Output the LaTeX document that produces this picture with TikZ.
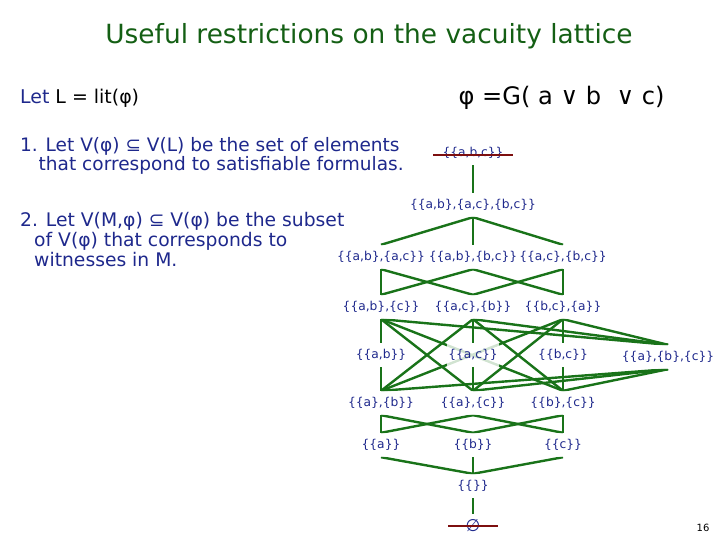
\documentclass[tikz,border=0pt]{standalone}
\usepackage{fontspec}
\setmainfont{DejaVu Sans}
\usepackage{xcolor}
\usepackage{tikz}
\usetikzlibrary{backgrounds}
\definecolor{slidenavy}{RGB}{30,40,140}
\definecolor{titlegreen}{RGB}{20,95,20}
\definecolor{edgegreen}{RGB}{25,115,25}
\definecolor{strikered}{RGB}{125,15,15}

\begin{document}
\begin{tikzpicture}[x=1bp,y=-1bp,
  setnode/.style={text=slidenavy,font=\fontsize{12.3}{12}\selectfont,minimum height=24bp,inner sep=1bp,fill=white,fill opacity=0.8,text opacity=1},
  order/.style={draw=edgegreen,line width=2.4bp},
  strike/.style={draw=strikered,line width=2.6bp},
  body/.style={text=slidenavy,align=left,inner sep=0pt}
]
\useasboundingbox (0,0) rectangle (720,540);

% Title and text
\node[text=titlegreen,font=\fontsize{26.5}{26.5}\selectfont] (title) at (369,36) {Useful restrictions on the vacuity lattice};
\node[body,anchor=west,font=\fontsize{19}{19}\selectfont] (letL) at (20,98) {Let \textcolor{black}{L = lit(φ)}};
\node[font=\fontsize{24.2}{24}\selectfont,anchor=east] (phi) at (668,98) {φ =G( a ∨ b \ ∨ c)};
\node[body,anchor=north west,font=\fontsize{18.6}{16.5}\selectfont] (item1) at (20,137) {1. Let V(φ) ⊆ V(L) be the set of elements\\\hspace*{1em}that correspond to satisfiable formulas.};
\node[body,anchor=north west,font=\fontsize{18.8}{20}\selectfont] (item2) at (20,212) {2. Let V(M,φ) ⊆ V(φ) be the subset\\\hspace*{0.75em}of V(φ) that corresponds to\\\hspace*{0.75em}witnesses in M.};
\node[font=\fontsize{10}{10}\selectfont] (page) at (703,528) {16};

% Lattice
\node[setnode] (abc) at (473,153) {\{\{a,b,c\}\}};
\node[setnode] (top2) at (473,205) {\{\{a,b\},\{a,c\},\{b,c\}\}};
\node[setnode] (abac) at (381,257) {\{\{a,b\},\{a,c\}\}};
\node[setnode] (abbc) at (473,257) {\{\{a,b\},\{b,c\}\}};
\node[setnode] (acbc) at (563,257) {\{\{a,c\},\{b,c\}\}};
\node[setnode] (ab-c) at (381,307) {\{\{a,b\},\{c\}\}};
\node[setnode] (ac-b) at (473,307) {\{\{a,c\},\{b\}\}};
\node[setnode] (bc-a) at (563,307) {\{\{b,c\},\{a\}\}};
\node[setnode] (ab) at (381,355) {\{\{a,b\}\}};
\node[setnode] (ac) at (473,355) {\{\{a,c\}\}};
\node[setnode] (bc) at (563,355) {\{\{b,c\}\}};
\node[setnode] (a-b-c) at (668,357) {\{\{a\},\{b\},\{c\}\}};
\node[setnode] (a-b) at (381,403) {\{\{a\},\{b\}\}};
\node[setnode] (a-c) at (473,403) {\{\{a\},\{c\}\}};
\node[setnode] (b-c) at (563,403) {\{\{b\},\{c\}\}};
\node[setnode] (a) at (381,445) {\{\{a\}\}};
\node[setnode] (b) at (473,445) {\{\{b\}\}};
\node[setnode] (c) at (563,445) {\{\{c\}\}};
\node[setnode] (emp) at (473,486) {\{\{\}\}};
\node[setnode,font=\fontsize{17}{17}\selectfont] (bot) at (473,526) {∅};

\begin{scope}[on background layer]
  % top part
  \draw[order] (abc.south) -- (top2.north);
  \foreach \n in {abac,abbc,acbc}
    \draw[order] (top2.south) -- (\n.north);
  \draw[order] (abac.south) -- (ab-c.north);
  \draw[order] (abac.south) -- (ac-b.north);
  \draw[order] (abbc.south) -- (ab-c.north);
  \draw[order] (abbc.south) -- (bc-a.north);
  \draw[order] (acbc.south) -- (ac-b.north);
  \draw[order] (acbc.south) -- (bc-a.north);
  % middle part
  \draw[order] (ab-c.south) -- (ab.north);
  \draw[order] (ac-b.south) -- (ac.north);
  \draw[order] (bc-a.south) -- (bc.north);
  \draw[order] (ab.south) -- (a-b.north);
  \draw[order] (ac.south) -- (a-c.north);
  \draw[order] (bc.south) -- (b-c.north);
  \foreach \n in {ab-c,ac-b,bc-a}
    \draw[order] (\n.south) -- (a-b-c.north);
  \foreach \n in {a-b,a-c,b-c}
    \draw[order] (a-b-c.south) -- (\n.north);
  \draw[order] (ab-c.south) -- (a-c.north);
  \draw[order] (ab-c.south) -- (b-c.north);
  \draw[order] (ac-b.south) -- (a-b.north);
  \draw[order] (ac-b.south) -- (b-c.north);
  \draw[order] (bc-a.south) -- (a-b.north);
  \draw[order] (bc-a.south) -- (a-c.north);
  % bottom part
  \draw[order] (a-b.south) -- (a.north);
  \draw[order] (a-b.south) -- (b.north);
  \draw[order] (a-c.south) -- (a.north);
  \draw[order] (a-c.south) -- (c.north);
  \draw[order] (b-c.south) -- (b.north);
  \draw[order] (b-c.south) -- (c.north);
  \foreach \n in {a,b,c}
    \draw[order] (\n.south) -- (emp.north);
  \draw[order] (emp.south) -- (bot.north);
\end{scope}

% struck out elements
\draw[strike] ([shift={(-8,2)}]abc.west) -- ([shift={(8,2)}]abc.east);
\draw[strike] ([xshift=-16bp]bot.west) -- ([xshift=16bp]bot.east);

\end{tikzpicture}
\end{document}
